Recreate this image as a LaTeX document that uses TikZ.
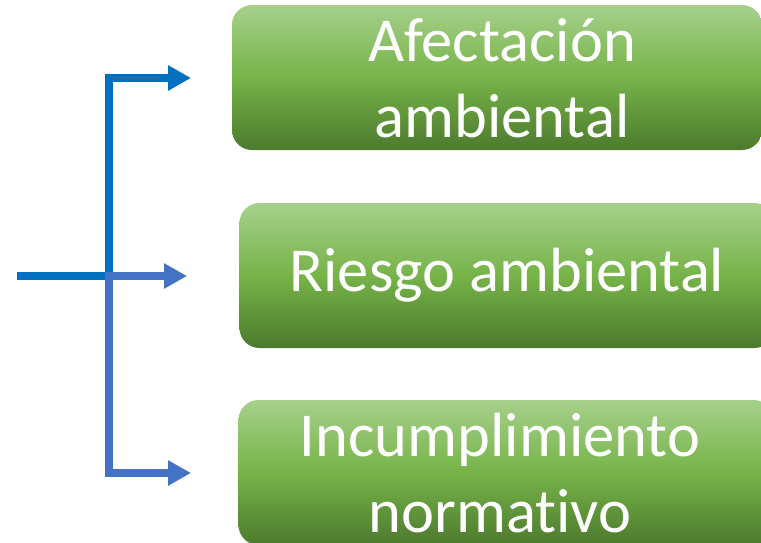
\documentclass[tikz,border=0pt]{standalone}
\usepackage{fontspec}
\setmainfont[RawFeature={-liga}]{Carlito}
\usetikzlibrary{arrows.meta}
\definecolor{upblue}{HTML}{0070C0}
\definecolor{lowblue}{HTML}{4472C4}
\definecolor{gtop}{HTML}{A6D08B}
\definecolor{gmid}{HTML}{76B348}
\definecolor{gbot}{HTML}{4D7A2E}
\tikzset{
  greenbox/.style={rectangle, rounded corners=20pt, top color=gtop, bottom color=gbot, middle color=gmid,
    minimum height=145pt, inner sep=0pt},
  boxtext/.style={inner sep=0pt, text=white, align=center, font=\fontsize{62.5}{76}\selectfont},
  conn/.style={line width=8pt, line join=miter, -{Triangle[length=23pt,width=24pt]}},
}
\begin{document}
\begin{tikzpicture}[x=1pt,y=-1pt]
\useasboundingbox (0,0) rectangle (761,542);
\node[greenbox, minimum width=530pt] (b1) at (497,77.5) {};
\node[greenbox, minimum width=535pt] (b2) at (507,275.5) {};
\node[greenbox, minimum width=535pt] (b3) at (506,472.5) {};
\node[boxtext, xshift=5pt, yshift=-1pt] (l1) at (b1.center) {Afectación\\ambiental};
\node[boxtext] (l2) at (b2.center) {Riesgo ambiental};
\node[boxtext, xshift=-6pt, yshift=-1pt] (l3) at (b3.center) {Incumplimiento\\normativo};
\coordinate (src) at (17,276);
\coordinate (j) at (109,276);
\coordinate (t1) at (191,78);
\coordinate (t2) at (187,276);
\coordinate (t3) at (191,473);
\draw[conn, draw=upblue] (src) -- (j) |- (t1);
\draw[conn, draw=lowblue] (105,276) -- (t2);
\draw[conn, draw=lowblue] (109,272) |- (t3);
\end{tikzpicture}
\end{document}
